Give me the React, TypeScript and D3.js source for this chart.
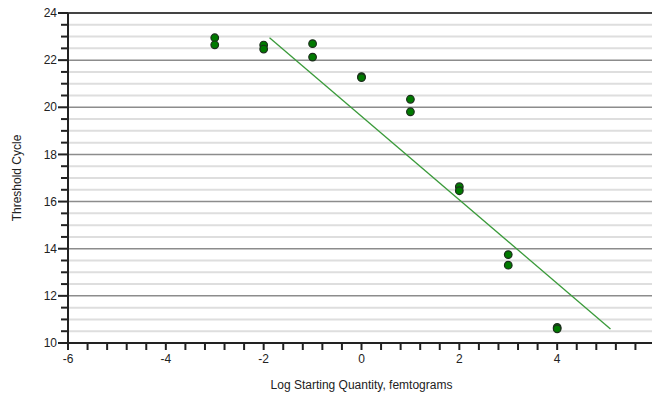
import React, { useEffect, useRef } from 'react';
import * as d3 from 'd3';

// standard curve: log starting quantity vs threshold cycle (replicates)
const logQuantity = [-3, -3, -2, -2, -1, -1, 0, 0, 1, 1, 2, 2, 3, 3, 4, 4];
const thresholdCycle = [22.95, 22.65, 22.64, 22.47, 22.7, 22.13, 21.3, 21.26, 20.34, 19.81, 16.63, 16.46, 13.75, 13.3, 10.66, 10.6];

// regression line as drawn
const fitSlope = -1.773;
const fitIntercept = 19.62;
const fitRange = [-1.88, 5.09];

const xTicks = [-6, -4, -2, 0, 2, 4];
const yTicks = [10, 12, 14, 16, 18, 20, 22, 24];

const App = () => {
  const ref = useRef<SVGGElement>(null);
  const width = 652;
  const height = 398;
  const margin = { top: 13, right: 0, bottom: 55, left: 68 };

  useEffect(() => {
    const g = d3.select(ref.current);
    g.selectAll('*').remove();

    const x = d3.scaleLinear().domain([-6, 6]).range([margin.left, 655]);
    const y = d3.scaleLinear().domain([10, 24]).range([height - margin.bottom, margin.top]);
    const font = '"Liberation Sans", Arial, sans-serif';

    // minor gridlines every 0.5
    const minor = d3.range(10, 24.01, 0.5).filter(v => v % 2 !== 0);
    g.append('g')
      .selectAll('line')
      .data(minor)
      .enter()
      .append('line')
      .attr('x1', x(-6))
      .attr('x2', width)
      .attr('y1', d => y(d))
      .attr('y2', d => y(d))
      .attr('stroke', '#dedede')
      .attr('stroke-width', 2);

    // major gridlines
    g.append('g')
      .selectAll('line')
      .data(yTicks.filter(v => v > 10))
      .enter()
      .append('line')
      .attr('x1', x(-6))
      .attr('x2', width)
      .attr('y1', d => y(d))
      .attr('y2', d => y(d))
      .attr('stroke', d => (d === 24 ? '#444' : '#8c8c8c'))
      .attr('stroke-width', d => (d === 24 ? 2 : 1.5));

    // y axis
    const yAxis = g.append('g');
    yAxis.append('line')
      .attr('x1', x(-6)).attr('x2', x(-6))
      .attr('y1', y(24)).attr('y2', y(10))
      .attr('stroke', '#222').attr('stroke-width', 2);
    yAxis.selectAll('.ytick')
      .data(d3.range(10, 24.01, 0.5))
      .enter()
      .append('line')
      .attr('x1', d => (d % 2 === 0 ? x(-6) - 10 : x(-6) - 7))
      .attr('x2', x(-6))
      .attr('y1', d => y(d))
      .attr('y2', d => y(d))
      .attr('stroke', '#222')
      .attr('stroke-width', 2);
    yAxis.selectAll('text')
      .data(yTicks)
      .enter()
      .append('text')
      .attr('x', x(-6) - 11)
      .attr('y', d => y(d))
      .attr('dy', '0.35em')
      .attr('text-anchor', 'end')
      .attr('font-family', font)
      .attr('font-size', 12)
      .attr('fill', '#222')
      .text(d => d);

    // x axis
    const xAxis = g.append('g');
    xAxis.append('line')
      .attr('x1', x(-6)).attr('x2', width)
      .attr('y1', y(10)).attr('y2', y(10))
      .attr('stroke', '#222').attr('stroke-width', 2);
    xAxis.selectAll('.xtick')
      .data(d3.range(-6, 6.01, 0.4))
      .enter()
      .append('line')
      .attr('x1', d => x(d))
      .attr('x2', d => x(d))
      .attr('y1', y(10))
      .attr('y2', y(10) + 7)
      .attr('stroke', '#222')
      .attr('stroke-width', 2);
    xAxis.selectAll('text')
      .data(xTicks)
      .enter()
      .append('text')
      .attr('x', d => x(d))
      .attr('y', y(10) + 20)
      .attr('text-anchor', 'middle')
      .attr('font-family', font)
      .attr('font-size', 12)
      .attr('fill', '#222')
      .text(d => d);

    // regression line
    const line = d3.line<number>()
      .x(d => x(d))
      .y(d => y(fitIntercept + fitSlope * d));
    g.append('path')
      .datum(fitRange)
      .attr('d', line)
      .attr('fill', 'none')
      .attr('stroke', '#3a9a3a')
      .attr('stroke-width', 1.3);

    // points
    g.append('g')
      .selectAll('circle')
      .data(logQuantity.map((q, i) => [q, thresholdCycle[i]]))
      .enter()
      .append('circle')
      .attr('cx', d => x(d[0]))
      .attr('cy', d => y(d[1]))
      .attr('r', 3.8)
      .attr('fill', '#007a00')
      .attr('stroke', '#1c2e1c')
      .attr('stroke-width', 1.2);

    // axis titles
    g.append('text')
      .attr('x', x(0))
      .attr('y', 389)
      .attr('text-anchor', 'middle')
      .attr('font-family', font)
      .attr('font-size', 12)
      .attr('fill', '#222')
      .text('Log Starting Quantity, femtograms');

    g.append('text')
      .attr('transform', 'translate(21,' + (margin.top + height - margin.bottom) / 2 + ') rotate(-90)')
      .attr('text-anchor', 'middle')
      .attr('font-family', font)
      .attr('font-size', 12)
      .attr('fill', '#222')
      .text('Threshold Cycle');
  });

  return (
    <svg width={width} height={height} style={{ position: 'absolute', left: 0, top: 0, background: '#fff' }}>
      <g ref={ref} />
    </svg>
  );
};

export default App;
